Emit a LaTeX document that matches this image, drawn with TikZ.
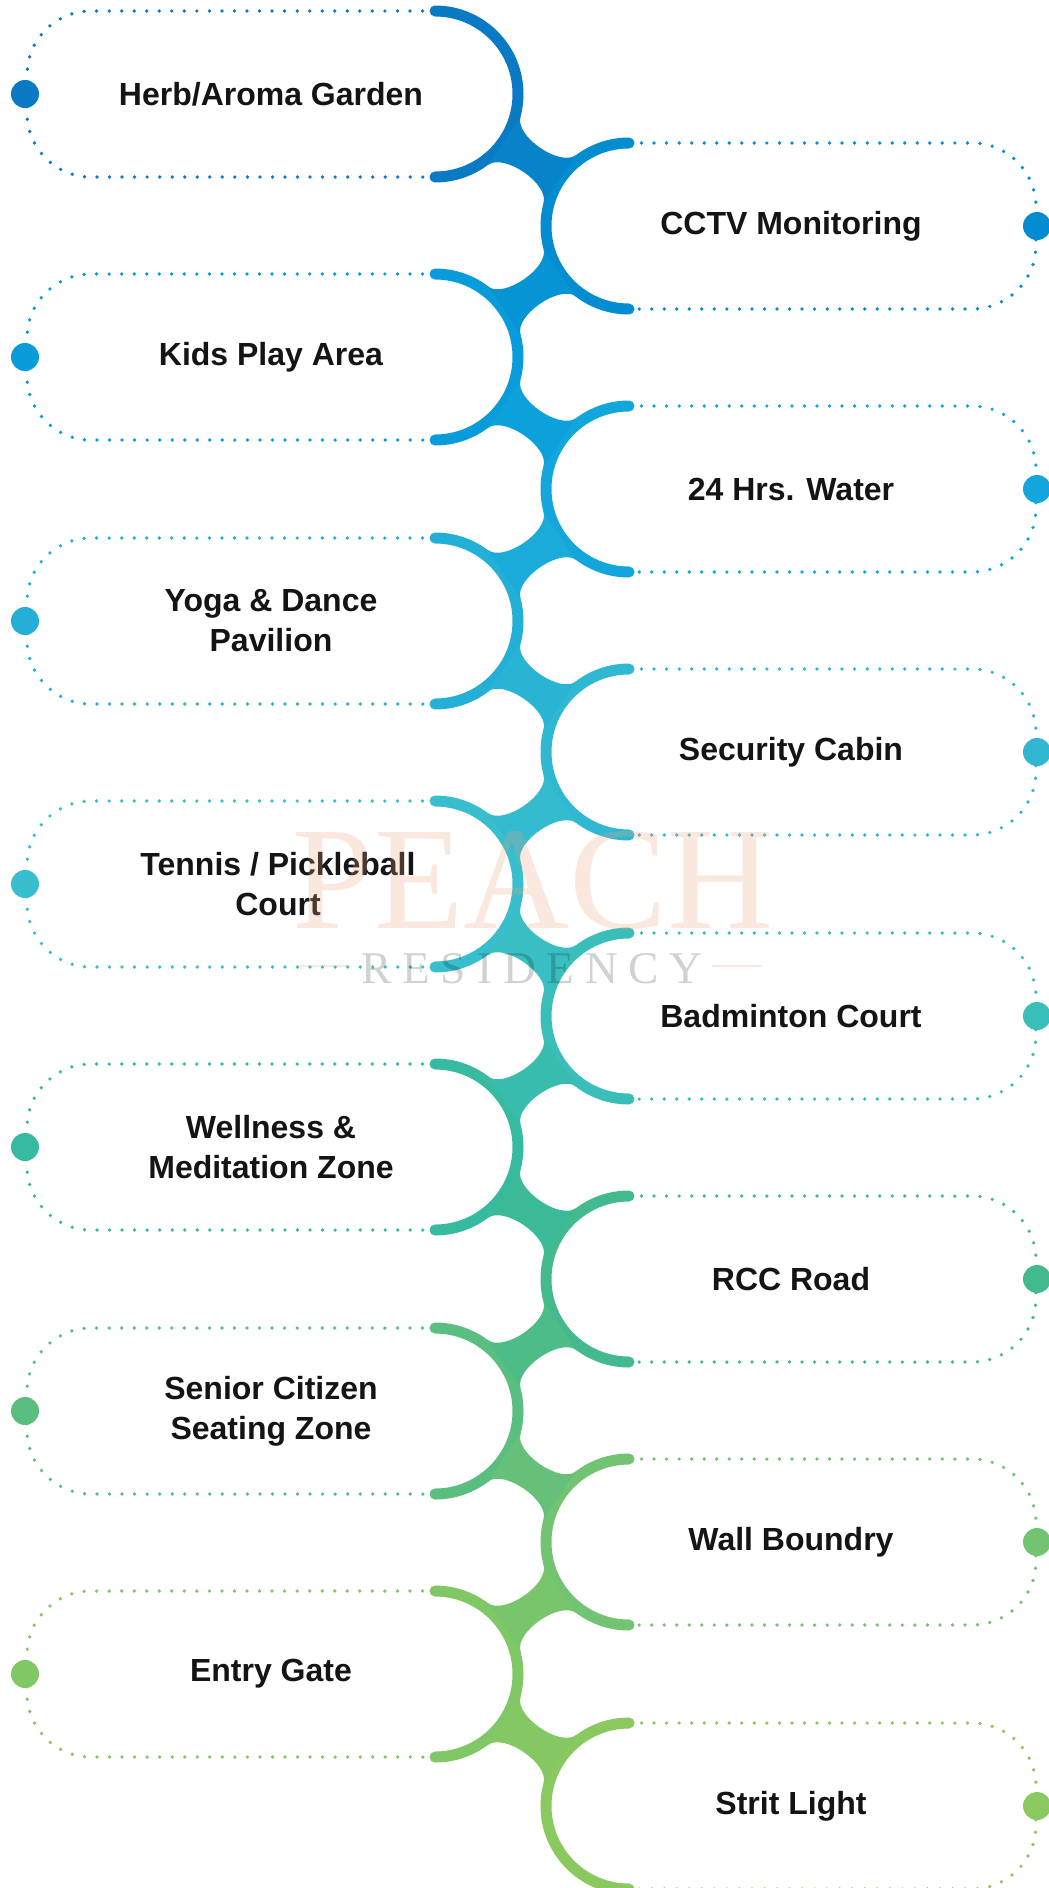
\documentclass[tikz,border=0pt]{standalone}
\usepackage{fontspec}
\setmainfont{Liberation Sans}
\newfontfamily\markfont{Liberation Serif}
\definecolor{herbcol}{RGB}{10,122,196}
\definecolor{cctvcol}{RGB}{4,140,208}
\definecolor{kidscol}{RGB}{8,156,218}
\definecolor{watercol}{RGB}{18,166,220}
\definecolor{yogacol}{RGB}{36,176,214}
\definecolor{securitycol}{RGB}{48,184,210}
\definecolor{tenniscol}{RGB}{56,190,204}
\definecolor{badmintoncol}{RGB}{58,190,186}
\definecolor{wellnesscol}{RGB}{54,186,160}
\definecolor{rcccol}{RGB}{66,186,142}
\definecolor{seniorcol}{RGB}{90,190,128}
\definecolor{wallcol}{RGB}{114,195,114}
\definecolor{entrycol}{RGB}{128,199,102}
\definecolor{stritcol}{RGB}{138,200,96}
\definecolor{peachmark}{RGB}{235,165,125}
\tikzset{
  spine/.style={line width=8.25pt,line cap=round},
  dotbox/.style={line width=2.8pt,line cap=round,dash pattern=on 0pt off 9.4pt,rounded corners=48pt},
  enddot/.style={circle,inner sep=0pt,minimum size=21pt},
  amenity/.style={font=\bfseries\fontsize{24}{30}\selectfont,text=black!92,align=center,inner sep=0pt},
  crossing/.pic={\fill (-11.6,42.8) .. controls (-16.8,23.5) and (28,-7.1) .. (44,4.9) -- (11.6,-42.8) .. controls (16.8,-23.5) and (-28,7.1) .. (-44,-4.9) -- cycle;},
}
\begin{document}
\begin{tikzpicture}[x=0.75pt,y=0.75pt,yscale=-1,xscale=1]
\useasboundingbox (0,0) rectangle (1049,1888);
% tips of the crescents
\coordinate (herb-t) at (435,11);       \coordinate (herb-b) at (435,177);
\coordinate (cctv-t) at (629,143);      \coordinate (cctv-b) at (629,309);
\coordinate (kids-t) at (435,274);      \coordinate (kids-b) at (435,440);
\coordinate (water-t) at (629,406);     \coordinate (water-b) at (629,572);
\coordinate (yoga-t) at (435,538);      \coordinate (yoga-b) at (435,704);
\coordinate (security-t) at (629,669);  \coordinate (security-b) at (629,835);
\coordinate (tennis-t) at (435,801);    \coordinate (tennis-b) at (435,967);
\coordinate (badminton-t) at (629,933); \coordinate (badminton-b) at (629,1099);
\coordinate (wellness-t) at (435,1064); \coordinate (wellness-b) at (435,1230);
\coordinate (rcc-t) at (629,1196);      \coordinate (rcc-b) at (629,1362);
\coordinate (senior-t) at (435,1328);   \coordinate (senior-b) at (435,1494);
\coordinate (wall-t) at (629,1459);     \coordinate (wall-b) at (629,1625);
\coordinate (entry-t) at (435,1591);    \coordinate (entry-b) at (435,1757);
\coordinate (strit-t) at (629,1723);    \coordinate (strit-b) at (629,1889);
% where two crescents join
\coordinate (j0) at (532,160);    \coordinate (j1) at (532,291.5);  \coordinate (j2) at (532,423);
\coordinate (j3) at (532,555);    \coordinate (j4) at (532,686.5);  \coordinate (j5) at (532,818);
\coordinate (j6) at (532,950);    \coordinate (j7) at (532,1081.5); \coordinate (j8) at (532,1213);
\coordinate (j9) at (532,1345);   \coordinate (j10) at (532,1476.5);\coordinate (j11) at (532,1608);
\coordinate (j12) at (532,1740);
% dotted outlines
\draw[dotbox,draw=herbcol] (herb-t) -- ++(-408,0) -- ++(0,166) -- (herb-b);
\draw[dotbox,draw=cctvcol] (cctv-t) -- ++(407,0) -- ++(0,166) -- (cctv-b);
\draw[dotbox,draw=kidscol] (kids-t) -- ++(-408,0) -- ++(0,166) -- (kids-b);
\draw[dotbox,draw=watercol] (water-t) -- ++(407,0) -- ++(0,166) -- (water-b);
\draw[dotbox,draw=yogacol] (yoga-t) -- ++(-408,0) -- ++(0,166) -- (yoga-b);
\draw[dotbox,draw=securitycol] (security-t) -- ++(407,0) -- ++(0,166) -- (security-b);
\draw[dotbox,draw=tenniscol] (tennis-t) -- ++(-408,0) -- ++(0,166) -- (tennis-b);
\draw[dotbox,draw=badmintoncol] (badminton-t) -- ++(407,0) -- ++(0,166) -- (badminton-b);
\draw[dotbox,draw=wellnesscol] (wellness-t) -- ++(-408,0) -- ++(0,166) -- (wellness-b);
\draw[dotbox,draw=rcccol] (rcc-t) -- ++(407,0) -- ++(0,166) -- (rcc-b);
\draw[dotbox,draw=seniorcol] (senior-t) -- ++(-408,0) -- ++(0,166) -- (senior-b);
\draw[dotbox,draw=wallcol] (wall-t) -- ++(407,0) -- ++(0,166) -- (wall-b);
\draw[dotbox,draw=entrycol] (entry-t) -- ++(-408,0) -- ++(0,166) -- (entry-b);
\draw[dotbox,draw=stritcol] (strit-t) -- ++(407,0) -- ++(0,166) -- (strit-b);
% crescents
\draw[spine,draw=herbcol] (herb-t) arc[start angle=-90,end angle=90,radius=83];
\draw[spine,draw=cctvcol] (cctv-t) arc[start angle=270,end angle=90,radius=83];
\draw[spine,draw=kidscol] (kids-t) arc[start angle=-90,end angle=90,radius=83];
\draw[spine,draw=watercol] (water-t) arc[start angle=270,end angle=90,radius=83];
\draw[spine,draw=yogacol] (yoga-t) arc[start angle=-90,end angle=90,radius=83];
\draw[spine,draw=securitycol] (security-t) arc[start angle=270,end angle=90,radius=83];
\draw[spine,draw=tenniscol] (tennis-t) arc[start angle=-90,end angle=90,radius=83];
\draw[spine,draw=badmintoncol] (badminton-t) arc[start angle=270,end angle=90,radius=83];
\draw[spine,draw=wellnesscol] (wellness-t) arc[start angle=-90,end angle=90,radius=83];
\draw[spine,draw=rcccol] (rcc-t) arc[start angle=270,end angle=90,radius=83];
\draw[spine,draw=seniorcol] (senior-t) arc[start angle=-90,end angle=90,radius=83];
\draw[spine,draw=wallcol] (wall-t) arc[start angle=270,end angle=90,radius=83];
\draw[spine,draw=entrycol] (entry-t) arc[start angle=-90,end angle=90,radius=83];
\draw[spine,draw=stritcol] (strit-t) arc[start angle=270,end angle=90,radius=83];
% joints
\pic[fill=herbcol!50!cctvcol] at (j0) {crossing};
\pic[xscale=-1,fill=cctvcol!50!kidscol] at (j1) {crossing};
\pic[fill=kidscol!50!watercol] at (j2) {crossing};
\pic[xscale=-1,fill=watercol!50!yogacol] at (j3) {crossing};
\pic[fill=yogacol!50!securitycol] at (j4) {crossing};
\pic[xscale=-1,fill=securitycol!50!tenniscol] at (j5) {crossing};
\pic[fill=tenniscol!50!badmintoncol] at (j6) {crossing};
\pic[xscale=-1,fill=badmintoncol!50!wellnesscol] at (j7) {crossing};
\pic[fill=wellnesscol!50!rcccol] at (j8) {crossing};
\pic[xscale=-1,fill=rcccol!50!seniorcol] at (j9) {crossing};
\pic[fill=seniorcol!50!wallcol] at (j10) {crossing};
\pic[xscale=-1,fill=wallcol!50!entrycol] at (j11) {crossing};
\pic[fill=entrycol!50!stritcol] at (j12) {crossing};
% end dots
\node[enddot,fill=herbcol] (herb-dot) at (25,94) {};
\node[enddot,fill=cctvcol] (cctv-dot) at (1037,226) {};
\node[enddot,fill=kidscol] (kids-dot) at (25,357) {};
\node[enddot,fill=watercol] (water-dot) at (1037,489) {};
\node[enddot,fill=yogacol] (yoga-dot) at (25,621) {};
\node[enddot,fill=securitycol] (security-dot) at (1037,752) {};
\node[enddot,fill=tenniscol] (tennis-dot) at (25,884) {};
\node[enddot,fill=badmintoncol] (badminton-dot) at (1037,1016) {};
\node[enddot,fill=wellnesscol] (wellness-dot) at (25,1147) {};
\node[enddot,fill=rcccol] (rcc-dot) at (1037,1279) {};
\node[enddot,fill=seniorcol] (senior-dot) at (25,1411) {};
\node[enddot,fill=wallcol] (wall-dot) at (1037,1542) {};
\node[enddot,fill=entrycol] (entry-dot) at (25,1674) {};
\node[enddot,fill=stritcol] (strit-dot) at (1037,1806) {};
% labels
\node[amenity] (herb) at (271,94) {Herb/Aroma Garden};
\node[amenity] (cctv) at (791,226) {CCTV Monitoring};
\node[amenity] (kids) at (271,357) {Kids Play Area};
\node[amenity] (water) at (791,489) {24 Hrs. Water};
\node[amenity] (yoga) at (271,621) {Yoga \& Dance\\Pavilion};
\node[amenity] (security) at (791,752) {Security Cabin};
\node[amenity] (tennis) at (278,884) {Tennis / Pickleball\\Court};
\node[amenity] (badminton) at (791,1016) {Badminton Court};
\node[amenity] (wellness) at (271,1147) {Wellness \&\\Meditation Zone};
\node[amenity] (rcc) at (791,1279) {RCC Road};
\node[amenity] (senior) at (271,1411) {Senior Citizen\\Seating Zone};
\node[amenity] (wall) at (791,1542) {Wall Boundry};
\node[amenity] (entry) at (271,1674) {Entry Gate};
\node[amenity] (strit) at (791,1806) {Strit Light};
% watermark
\node[anchor=base,inner sep=0pt,text=peachmark,opacity=0.25,font=\markfont\fontsize{110}{110}\selectfont] (peach) at (533,928) {PEACH};
\node[anchor=base,inner sep=0pt,text=black,opacity=0.18,font=\markfont\fontsize{34}{34}\selectfont\addfontfeatures{LetterSpace=24}] (residency) at (532,983) {RESIDENCY};
\draw[peachmark,opacity=0.25,line width=1.5pt] (300,966) -- (350,966) (712,966) -- (762,966);
\end{tikzpicture}
\end{document}
